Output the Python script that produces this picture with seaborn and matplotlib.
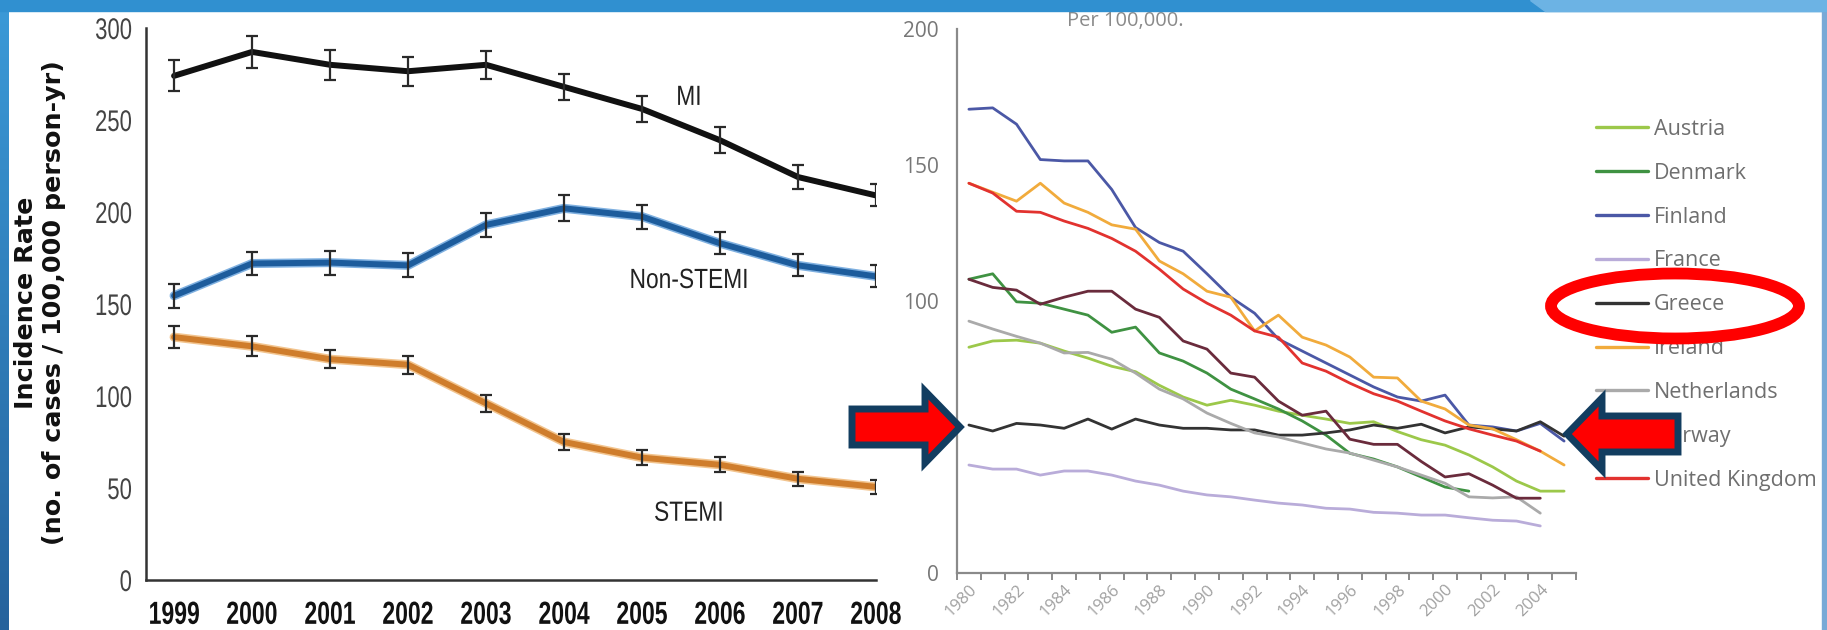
import numpy as np
import pandas as pd
import matplotlib
matplotlib.use("Agg")
import matplotlib.pyplot as plt
import matplotlib.patches as mpatches
import matplotlib.patheffects as pe
from matplotlib.transforms import Affine2D
import seaborn as sns

sns.set_theme(style="white")
plt.rcParams["font.family"] = ["DejaVu Sans"]

# ---- left panel: US incidence with error bars ----
years_us = [1999, 2000, 2001, 2002, 2003, 2004, 2005, 2006, 2007, 2008]
mi = [274, 287, 280, 276.5, 280, 268, 256, 239, 219, 209]
mi_err = [8.5, 8.5, 8, 8, 7.5, 7, 7, 7, 6.5, 6]
nstemi = [154.5, 172, 172.5, 171, 193, 202, 197.5, 183, 171, 165]
nstemi_err = [6.5, 6.5, 6.5, 6.5, 6.5, 7, 6.5, 6, 6, 6]
stemi = [132, 127, 120, 117, 96, 75, 66.5, 62.6, 55, 50.6]
stemi_err = [6, 5.5, 5, 5, 4.5, 4.3, 4, 4, 3.8, 3.7]

# ---- right panel: European countries, per 100,000 ----
years_eu = list(range(1980, 2006))
austria = [83, 85.3, 85.6, 84.5, 81.6, 79, 76, 74, 69, 64.7, 61.7, 63.5, 61.7,
           59.5, 58, 56.6, 55, 55.6, 52, 49, 47, 43.4, 39, 33.8, 30.1, 30.1]
denmark = [108, 110, 99.7, 99.2, 97, 94.8, 88.5, 90.4, 80.9, 77.9, 73.5, 67.6,
           64, 60.3, 55.9, 50.7, 44, 41.9, 39, 35.3, 31.6, 30.1]
finland = [170.5, 171, 165, 152, 151.5, 151.5, 141, 127, 121.5, 118.3, 110,
           101.4, 95.5, 86, 81.6, 77.2, 72.8, 68.4, 64.7, 63.2, 65.4, 54.4,
           53.7, 52.2, 55, 48.5]
france = [39.7, 38.2, 38.2, 36, 37.5, 37.5, 36, 33.8, 32.3, 30.1, 28.7, 28,
          26.8, 25.7, 25, 23.8, 23.5, 22.3, 22, 21.3, 21.3, 20.3, 19.4, 19.1, 17.3]
greece = [54.4, 52.2, 55, 54.4, 53.2, 56.6, 52.9, 56.6, 54.4, 53.2, 53.2, 52.6,
          52.6, 50.7, 50.7, 51.5, 52.6, 54.4, 53.2, 54.7, 51.5, 53.7, 53, 52.2,
          55.6, 50.3]
ireland = [143.3, 140, 136.7, 143.3, 136, 132.6, 128, 126.4, 114.7, 110, 103.6,
           101.4, 89, 94.8, 86.7, 83.8, 79.4, 72, 71.7, 63.2, 60.3, 54.4, 53,
           49, 44.8, 39.7]
netherlands = [92.6, 89.7, 87, 84.5, 80.9, 81.1, 78.6, 73.5, 67.6, 64, 58.8, 55,
               51.5, 50, 47.8, 45.6, 44.1, 41.5, 39, 36, 33, 28, 27.6, 28, 22]
norway = [108, 105, 104, 98.8, 101.4, 103.6, 103.6, 97, 94, 85.3, 82.3, 73.5,
          72, 63.2, 58, 59.5, 49.2, 47.3, 47.3, 41, 35.3, 36.5, 32.3, 27.5, 27.5]
uk = [143.3, 139.7, 133, 132.6, 129.4, 126.7, 123, 118.3, 111.7, 104.4, 99.2,
      94.8, 89, 86.7, 77.2, 74.2, 69.8, 65.9, 63.2, 59.5, 55.9, 53, 50.7, 48.5,
      44.8]

countries = ["Austria", "Denmark", "Finland", "France", "Greece", "Ireland",
             "Netherlands", "Norway", "United Kingdom"]
series = [austria, denmark, finland, france, greece, ireland, netherlands, norway, uk]
palette = {"Austria": "#9cc84a", "Denmark": "#3f9242", "Finland": "#4b58a6",
           "France": "#b9acd9", "Greece": "#333333", "Ireland": "#f1ab3c",
           "Netherlands": "#aaaaaa", "Norway": "#6a2b3c",
           "United Kingdom": "#e2322f"}

rows = []
for name, vals in zip(countries, series):
    for y, v in zip(years_eu, vals):
        rows.append({"year": y, "rate": v, "country": name})
eu = pd.DataFrame(rows)


# narrow lettering: squeeze glyph outlines horizontally
class Squeeze(pe.AbstractPathEffect):
    def __init__(self, f=0.73, anchor="center"):
        super().__init__()
        self.f = f
        self.anchor = anchor

    def draw_path(self, renderer, gc, tpath, affine, rgbFace=None):
        ext = tpath.get_extents()
        cx = ext.x1 if self.anchor == "right" else (ext.x0 + ext.x1) / 2
        t = Affine2D().translate(-cx, 0).scale(self.f, 1).translate(cx, 0) + affine
        renderer.draw_path(gc, tpath, t, rgbFace)


W, H = 1827, 630
fig = plt.figure(figsize=(W / 100, H / 100), dpi=100)
fig.patch.set_facecolor("white")

arial = ["Liberation Sans", "DejaVu Sans"]
soft = ["Open Sans", "DejaVu Sans"]

# ---- left chart ----
ax1 = fig.add_axes([146 / W, 1 - 580 / H, (876 - 146) / W, (580 - 28) / H])
us_sets = [("MI", mi, mi_err, "#111111", None),
           ("Non-STEMI", nstemi, nstemi_err, "#1d5c9c", "#7fb0e0"),
           ("STEMI", stemi, stemi_err, "#cf7d2c", "#f2c48e")]
for name, vals, err, col, glow in us_sets:
    d = pd.DataFrame({"year": years_us, "rate": vals})
    sns.lineplot(data=d, x="year", y="rate", color=col, lw=4.3, ax=ax1, zorder=2)
    if glow:
        ax1.lines[-1].set_path_effects([pe.Stroke(linewidth=6.5, foreground=glow),
                                        pe.Normal()])
    ax1.errorbar(years_us, vals, yerr=err, fmt="none", ecolor="#2a2a2a",
                 elinewidth=1.6, capsize=4.3, capthick=1.6, zorder=3)

ax1.set_xlim(1998.64, 2008)
ax1.set_ylim(0, 300)
ax1.set_xticks(years_us)
ax1.set_yticks(range(0, 301, 50))
ax1.set_xlabel("")
ax1.set_ylabel("")
for s in ["top", "right"]:
    ax1.spines[s].set_visible(False)
for s in ["left", "bottom"]:
    ax1.spines[s].set_color("#333333")
    ax1.spines[s].set_linewidth(1.8)
ax1.tick_params(axis="x", direction="out", length=11, width=1.8, color="#333333",
                pad=4, labelsize=23)
ax1.tick_params(axis="y", direction="out", length=8, width=1.8, color="#333333",
                pad=2, labelsize=21.5)
for lab in ax1.get_xticklabels():
    lab.set_family(arial)
    lab.set_fontweight("bold")
    lab.set_color("#111111")
    lab.set_path_effects([Squeeze(0.72)])
for lab in ax1.get_yticklabels():
    lab.set_family(arial)
    lab.set_color("#444444")
    lab.set_path_effects([Squeeze(0.74, "right")])

for txt, yv in [("MI", 262), ("Non-STEMI", 162.5), ("STEMI", 36)]:
    ax1.text(2005.6, yv, txt, ha="center", va="center", fontsize=20,
             family=arial, color="#222222", path_effects=[Squeeze(0.82)])

fig.text(40 / W, 1 - 303 / H,
         "Incidence Rate\n(no. of cases / 100,000 person-yr)",
         rotation=90, ha="center", va="center", multialignment="center",
         fontsize=18.3, fontweight="bold", color="#111111", linespacing=1.25)

# ---- right chart ----
ax2 = fig.add_axes([957 / W, 1 - 573 / H, (1576 - 957) / W, (573 - 29) / H])
sns.lineplot(data=eu, x="year", y="rate", hue="country", hue_order=countries,
             palette=palette, lw=2.0, ax=ax2, legend=False)
ax2.set_xlim(1979.5, 2005.5)
ax2.set_ylim(0, 200)
ax2.set_xlabel("")
ax2.set_ylabel("")
ax2.set_xticks(range(1980, 2005, 2))
ax2.set_xticks(np.arange(1979.5, 2006, 1), minor=True)
ax2.set_yticks(range(0, 201, 50))
for s in ["top", "right"]:
    ax2.spines[s].set_visible(False)
for s in ["left", "bottom"]:
    ax2.spines[s].set_color("#8a8a8a")
    ax2.spines[s].set_linewidth(1.6)
ax2.tick_params(axis="x", which="major", length=0, pad=6, labelsize=12,
                labelcolor="#a0a0a0")
ax2.tick_params(axis="x", which="minor", direction="out", length=5, width=1.4,
                color="#8a8a8a", bottom=True)
ax2.tick_params(axis="y", direction="out", length=7, width=1.4, color="#8a8a8a",
                pad=6, labelsize=15, labelcolor="#777777")
for lab in ax2.get_xticklabels():
    lab.set_rotation(45)
    lab.set_ha("right")
    lab.set_rotation_mode("anchor")
    lab.set_family(soft)
for lab in ax2.get_yticklabels():
    lab.set_family(soft)

fig.text(1067 / W, 1 - 21 / H, "Per 100,000.", ha="left", va="center",
         fontsize=14.5, color="#8a8a8a", family=soft)

handles = [plt.Line2D([], [], color=palette[c], lw=2.4) for c in countries]
leg = fig.legend(handles, countries, loc="upper left",
                 bbox_to_anchor=(1596 / W, 1 - 119 / H), frameon=False,
                 borderpad=0, borderaxespad=0, handlelength=2.4,
                 handletextpad=0.3, labelspacing=1.06,
                 prop={"family": soft, "size": 15.5})
for t in leg.get_texts():
    t.set_color("#6f6f6f")

# ---- slide frame ----
grad = fig.add_axes([0, 0, 9 / W, 1])
grad.imshow(np.linspace(0, 1, 256).reshape(-1, 1), aspect="auto",
            cmap=matplotlib.colors.LinearSegmentedColormap.from_list(
                "f", ["#3b9ad8", "#25629c"]), extent=[0, 1, 0, 1], origin="upper")
grad.axis("off")

fig.patches.append(mpatches.Rectangle((0, 1 - 11 / H), 1, 11 / H,
                                      transform=fig.transFigure,
                                      color="#3090d0", zorder=10))
fig.patches.append(mpatches.Polygon([(1530 / W, 1), (1827 / W, 1),
                                     (1827 / W, 1 - 11 / H), (1545 / W, 1 - 11 / H)],
                                    closed=True, transform=fig.transFigure,
                                    color="#6cb3e4", zorder=11))
fig.patches.append(mpatches.Rectangle((1822 / W, 0), 5 / W, 1,
                                      transform=fig.transFigure,
                                      color="#79a9d6", zorder=10))


# ---- annotations: arrows and ellipse (pixel coordinates) ----
def arrow(x, y, dx):
    return mpatches.FancyArrow(x, H - y, dx, 0, width=36, head_width=72,
                               head_length=35, length_includes_head=True,
                               facecolor="#ff0000", edgecolor="#123d60",
                               linewidth=5, joinstyle="miter",
                               transform=None, zorder=20)


fig.patches.append(arrow(852, 427, 108))
fig.patches.append(arrow(1678, 434, -111))
fig.patches.append(mpatches.Ellipse((1675, H - 306), 248, 65, fill=False,
                                    edgecolor="#ff0000", linewidth=8.5,
                                    transform=None, zorder=20))

fig.savefig("out.png", dpi=100)
